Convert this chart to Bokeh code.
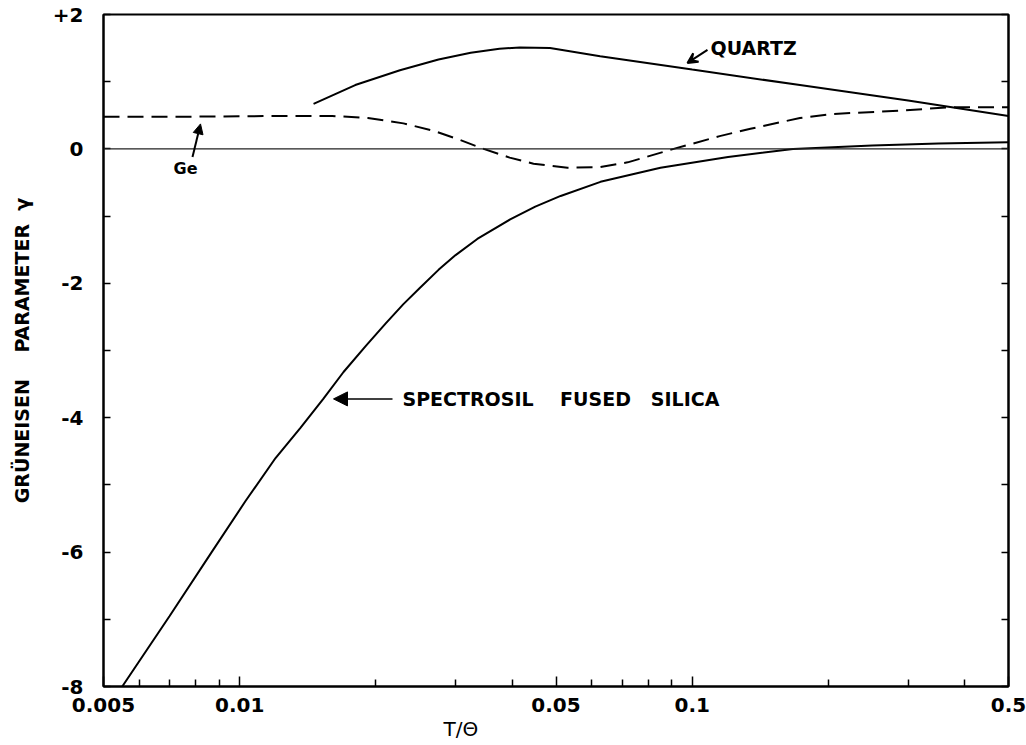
from bokeh.plotting import figure
from bokeh.models import (FixedTicker, CustomJSTickFormatter, LinearAxis, Span,
                          Label, Arrow, NormalHead, VeeHead, Title)
from bokeh.embed import file_html
from bokeh.resources import INLINE

# ---- data ----
silica_x = [0.0055, 0.0070, 0.00867, 0.0103, 0.012, 0.01362, 0.0153, 0.01696, 0.019,
            0.021, 0.023, 0.025, 0.0275, 0.030, 0.0335, 0.0396, 0.045, 0.0512, 0.0627,
            0.0851, 0.12, 0.167, 0.25, 0.35, 0.5]
silica_y = [-8.0, -6.95, -6.0, -5.24, -4.6, -4.15, -3.72, -3.32, -2.93,
            -2.60, -2.31, -2.07, -1.80, -1.58, -1.34, -1.05, -0.86, -0.70, -0.49,
            -0.28, -0.12, 0.0, 0.05, 0.08, 0.10]

quartz_x = [0.01456, 0.018, 0.0226, 0.0275, 0.0324, 0.0375, 0.0416, 0.0485, 0.0626,
            0.10, 0.173, 0.30, 0.5]
quartz_y = [0.67, 0.95, 1.17, 1.33, 1.43, 1.49, 1.51, 1.50, 1.38,
            1.18, 0.95, 0.72, 0.49]

ge_x = [0.005, 0.008, 0.012, 0.016, 0.0192, 0.023, 0.0268, 0.0305, 0.0346, 0.0395,
        0.0446, 0.053, 0.0627, 0.072, 0.091, 0.115, 0.1345, 0.173, 0.205, 0.288, 0.372, 0.5]
ge_y = [0.48, 0.48, 0.49, 0.49, 0.46, 0.38, 0.27, 0.14, 0.0, -0.13,
        -0.22, -0.28, -0.27, -0.2, 0.0, 0.19, 0.30, 0.46, 0.52, 0.57, 0.62, 0.62]

x_major = [0.005, 0.01, 0.05, 0.1, 0.5]
x_minor = [0.006, 0.007, 0.008, 0.009, 0.02, 0.03, 0.04, 0.06, 0.07, 0.08, 0.09,
           0.2, 0.3, 0.4]
y_major = [-8, -6, -4, -2, 0, 2]
y_minor = [-7, -5, -3, -1, 1]

FONT = "DejaVu Sans"
NB = "\u00a0"

p = figure(x_axis_type="log", x_range=(0.005, 0.5), y_range=(-8, 2),
           frame_width=905, frame_height=672,
           min_border_left=103, min_border_right=18, min_border_top=14, min_border_bottom=59,
           output_backend="svg", toolbar_location=None,
           background_fill_color="white", border_fill_color="white")
p.grid.visible = False
p.outline_line_color = "black"
p.outline_line_width = 2

# x axis
xa = p.xaxis[0]
xa.ticker = FixedTicker(ticks=x_major, minor_ticks=x_minor)
xa.formatter = CustomJSTickFormatter(code="return tick.toString();")
xa.major_tick_in = 10
xa.major_tick_out = 0
xa.minor_tick_in = 7
xa.minor_tick_out = 0
xa.axis_line_width = 2
xa.major_tick_line_width = 1.5
xa.minor_tick_line_width = 1.5
xa.major_label_text_font = FONT
xa.major_label_text_font_style = "bold"
xa.major_label_text_font_size = "20px"
xa.major_label_text_color = "black"
xa.major_label_standoff = 11

# y axis
ya = p.yaxis[0]
ya.ticker = FixedTicker(ticks=y_major, minor_ticks=y_minor)
ya.formatter = CustomJSTickFormatter(code="return tick > 0 ? '+' + tick : tick.toString();")
ya.major_tick_in = 7
ya.major_tick_out = 0
ya.minor_tick_in = 7
ya.minor_tick_out = 0
ya.axis_line_width = 2
ya.major_tick_line_width = 1.5
ya.minor_tick_line_width = 1.5
ya.major_label_text_font = FONT
ya.major_label_text_font_style = "bold"
ya.major_label_text_font_size = "20px"
ya.major_label_text_color = "black"
ya.major_label_standoff = 20
ya.axis_label = "GRÜNEISEN" + NB * 3 + " PARAMETER" + NB + " γ"
ya.axis_label_text_font = FONT
ya.axis_label_text_font_style = "bold"
ya.axis_label_text_font_size = "19px"
ya.axis_label_text_color = "black"
ya.axis_label_standoff = 17

# right axis with inward ticks, no labels
ra = LinearAxis(ticker=FixedTicker(ticks=y_major, minor_ticks=y_minor),
                formatter=CustomJSTickFormatter(code="return '';"),
                major_tick_in=7, major_tick_out=0, minor_tick_in=7, minor_tick_out=0,
                axis_line_width=2, major_tick_line_width=1.5, minor_tick_line_width=1.5,
                major_label_text_font_size="1px")
p.add_layout(ra, "right")

# x axis title, off-centre as in the reference
p.add_layout(Title(text="T/Θ", align="left", offset=340, standoff=0,
                   text_font=FONT, text_font_style="normal", text_font_size="20px",
                   text_color="black"), "below")

# zero reference line
p.add_layout(Span(location=0, dimension="width", line_color="#222222", line_width=1.2))

# curves
p.line(silica_x, silica_y, line_color="black", line_width=2)
p.line(quartz_x, quartz_y, line_color="black", line_width=2)
p.line(ge_x, ge_y, line_color="black", line_width=2, line_dash="16 8")

# annotation placement helpers (pixel -> data)
def tx(px):
    return 0.005 * 10 ** ((px - 103) / 452.5)

def ty(py):
    return (148 - py) / 67.2

p.add_layout(Label(x=tx(710), y=ty(47), text="QUARTZ", text_font=FONT,
                   text_font_style="bold", text_font_size="19px", text_baseline="middle",
                   text_align="left", text_color="black"))
p.add_layout(Arrow(x_start=tx(707), y_start=ty(49), x_end=tx(687), y_end=ty(62),
                   line_width=2, end=VeeHead(size=10, line_width=2, fill_color="black")))

p.add_layout(Label(x=tx(185), y=ty(168), text="Ge", text_font=FONT,
                   text_font_style="bold", text_font_size="16px", text_baseline="middle",
                   text_align="center", text_color="black"))
p.add_layout(Arrow(x_start=tx(192), y_start=ty(156), x_end=tx(200), y_end=ty(123),
                   line_width=2, end=NormalHead(size=10, fill_color="black", line_width=1)))

p.add_layout(Label(x=tx(402), y=ty(398),
                   text="SPECTROSIL" + NB * 3 + " FUSED" + NB * 2 + " SILICA", text_font=FONT,
                   text_font_style="bold", text_font_size="19px", text_baseline="middle",
                   text_align="left", text_color="black"))
p.add_layout(Arrow(x_start=tx(392), y_start=ty(398), x_end=tx(333), y_end=ty(398),
                   line_width=1.5, end=NormalHead(size=14, fill_color="black", line_width=1)))

open("out.html", "w").write(file_html(p, INLINE))
